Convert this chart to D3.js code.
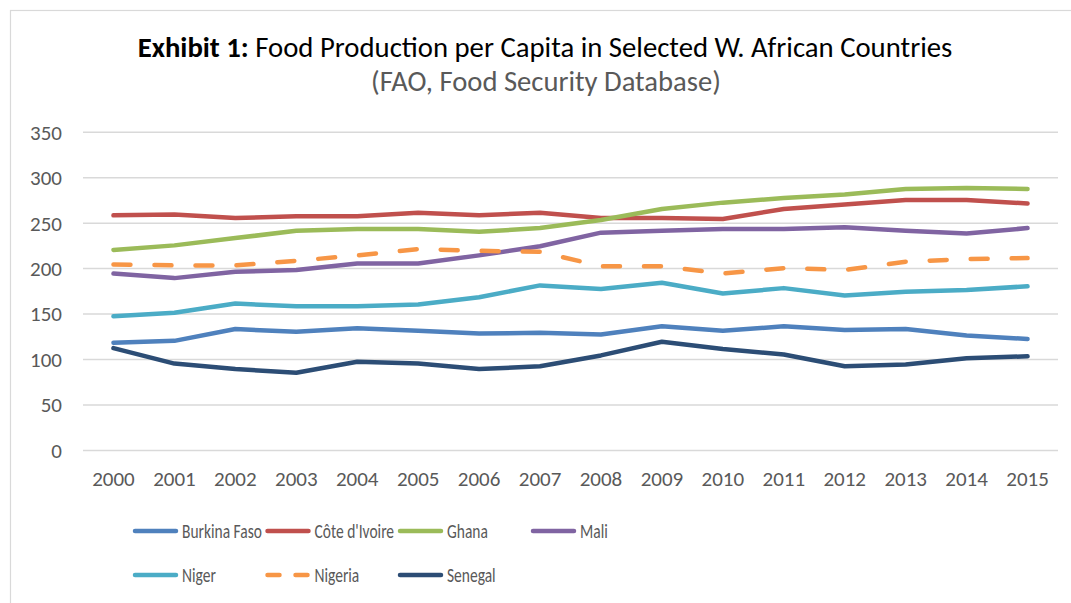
<!DOCTYPE html>
<html>
<head>
<meta charset="utf-8">
<script src="https://cdn.jsdelivr.net/npm/d3@7"></script>
<style>
  html, body { margin: 0; padding: 0; background: #fff; }
  svg { display: block; }
  text { font-family: Carlito, Calibri, Lato, "Open Sans", sans-serif; }
</style>
</head>
<body>
<svg id="chart" width="1071" height="603"></svg>
<script>
const years = ["2000","2001","2002","2003","2004","2005","2006","2007","2008","2009","2010","2011","2012","2013","2014","2015"];
const yTicks = [0, 50, 100, 150, 200, 250, 300, 350];

const burkinaFaso = [118, 120, 133, 130, 134, 131, 128, 129, 127, 136, 131, 136, 132, 133, 126, 122];
const coteDIvoire = [258, 259, 255, 257, 257, 261, 258, 261, 255, 255, 254, 265, 270, 275, 275, 271];
const ghana       = [220, 225, 233, 241, 243, 243, 240, 244, 253, 265, 272, 277, 281, 287, 288, 287];
const mali        = [194, 189, 196, 198, 205, 205, 214, 224, 239, 241, 243, 243, 245, 241, 238, 244];
const niger       = [147, 151, 161, 158, 158, 160, 168, 181, 177, 184, 172, 178, 170, 174, 176, 180];
const nigeria     = [204, 203, 203, 208, 214, 221, 219, 218, 202, 202, 194, 200, 198, 207, 210, 211];
const senegal     = [112, 95, 89, 85, 97, 95, 89, 92, 104, 119, 111, 105, 92, 94, 101, 103];

const seriesNames = ["Burkina Faso", "Côte d'Ivoire", "Ghana", "Mali", "Niger", "Nigeria", "Senegal"];
const seriesValues = [burkinaFaso, coteDIvoire, ghana, mali, niger, nigeria, senegal];
const seriesColors = ["#4F81BD", "#C0504D", "#9BBB59", "#8064A2", "#4BACC6", "#F79646", "#2C4D75"];
const seriesDashed = [false, false, false, false, false, true, false];

const svg = d3.select("#chart");

// outer frame
svg.append("rect")
  .attr("x", 10.5).attr("y", 10.5)
  .attr("width", 1100).attr("height", 700)
  .attr("fill", "none").attr("stroke", "#D9D9D9").attr("stroke-width", 1.2);

// title
const title = svg.append("text")
  .attr("x", 545).attr("y", 57)
  .attr("text-anchor", "middle")
  .attr("fill", "#000")
  .style("font-size", "26px");
title.append("tspan").attr("font-weight", "bold").text("Exhibit 1:");
title.append("tspan").text(" Food Production per Capita in Selected W. African Countries");
const tw = title.node().getComputedTextLength();
title.style("font-size", (26 * 815 / tw) + "px");

const sub = svg.append("text")
  .attr("x", 546).attr("y", 91)
  .attr("text-anchor", "middle")
  .attr("fill", "#595959")
  .style("font-size", "24px")
  .text("(FAO, Food Security Database)");
const sw = sub.node().getComputedTextLength();
sub.style("font-size", (24 * 350 / sw) + "px");

const x = d3.scaleBand().domain(years).range([83, 1058]).paddingInner(0).paddingOuter(0);
const cx = d => x(d) + x.bandwidth() / 2;
const y = d3.scaleLinear().domain([0, 350]).range([450, 131.7]);

// gridlines
const yAxis = d3.axisLeft(y).tickValues(yTicks).tickSize(-(1058 - 83)).tickPadding(21);
const gy = svg.append("g").attr("transform", "translate(83,0)").call(yAxis);
gy.select(".domain").remove();
gy.selectAll(".tick line").attr("stroke", "#D9D9D9").attr("stroke-width", 1.5);
gy.selectAll(".tick text")
  .attr("fill", "#595959")
  .style("font-size", "21px")
  .attr("dy", "0.35em");

const xAxis = d3.axisBottom(x).tickSize(0).tickPadding(21);
const gx = svg.append("g").attr("transform", "translate(0,450)").call(xAxis);
gx.select(".domain").remove();
gx.selectAll(".tick text")
  .attr("fill", "#595959")
  .style("font-size", "21px");

// lines
const line = d3.line().x((d, i) => cx(years[i])).y(d => y(d));
seriesValues.forEach((vals, k) => {
  const p = svg.append("path")
    .attr("d", line(vals))
    .attr("fill", "none")
    .attr("stroke", seriesColors[k])
    .attr("stroke-width", 4.5)
    .attr("stroke-linejoin", "round")
    .attr("stroke-linecap", "round");
  if (seriesDashed[k]) p.attr("stroke-dasharray", "17,24");
});

// legend
const legCols = [133, 265.5, 398, 531];
const legRows = [531, 575];
// measure condensation factor so "Burkina Faso" spans about 80px (narrow Calibri look)
const probe = svg.append("text").style("font-size", "21px").text(seriesNames[0]);
const squeeze = 80 / probe.node().getComputedTextLength();
probe.remove();
seriesNames.forEach((name, k) => {
  const col = k < 4 ? k : k - 4;
  const row = k < 4 ? 0 : 1;
  const lx = legCols[col], ly = legRows[row];
  const g = svg.append("g");
  const ln = g.append("line")
    .attr("x1", lx + 2).attr("x2", lx + 43)
    .attr("y1", ly).attr("y2", ly)
    .attr("stroke", seriesColors[k])
    .attr("stroke-width", 4.5)
    .attr("stroke-linecap", "round");
  if (seriesDashed[k]) ln.attr("stroke-dasharray", "12,16");
  g.append("text")
    .attr("transform", `translate(${lx + 49},${ly}) scale(${squeeze},1)`)
    .attr("dy", "0.35em")
    .attr("fill", "#595959")
    .style("font-size", "21px")
    .text(name);
});
</script>
</body>
</html>
